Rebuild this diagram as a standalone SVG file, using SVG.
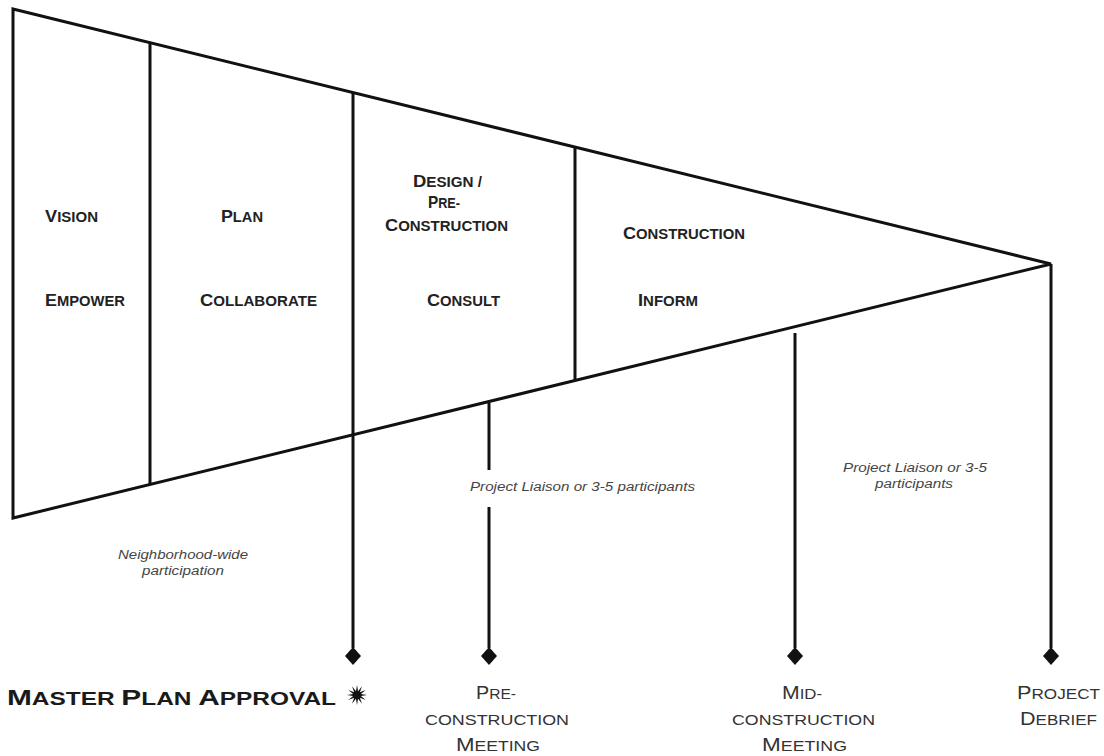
<svg xmlns="http://www.w3.org/2000/svg" width="1104" height="756" viewBox="0 0 1104 756">
<style>
  .ln { stroke: #111; stroke-width: 3; fill: none; stroke-linecap: butt; stroke-linejoin: miter; }
  .ph { font-family: "Liberation Sans", Arial, sans-serif; font-weight: bold; fill: #222; }
  .ph .c { font-size: 17px; }
  .ph .s { font-size: 14px; }
  .it { font-family: "Liberation Sans", Arial, sans-serif; font-style: italic; font-size: 12px; fill: #444; }
  .ms { font-family: "Liberation Sans", Arial, sans-serif; fill: #333; }
  .ms .c { font-size: 19px; }
  .ms .s { font-size: 15px; }
  .mp { font-family: "Liberation Sans", Arial, sans-serif; font-weight: bold; fill: #1a1a1a; }
  .mp .c { font-size: 22px; }
  .mp .s { font-size: 18px; }
  .dia { fill: #111; }
</style>
<defs>
  <polygon id="diamond" class="dia" points="0,-9 8,0 0,9 -8,0"/>
</defs>
<rect width="1104" height="756" fill="#fff"/>

<g id="outline">
  <polygon class="ln" points="13,9 1051,264 13,518"/>
</g>

<g id="connectors">
  <line class="ln" x1="150" y1="43" x2="150" y2="485"/>
  <line class="ln" x1="575" y1="147" x2="575" y2="381"/>
  <line class="ln" x1="353" y1="92" x2="353" y2="648"/>
  <line class="ln" x1="489" y1="403" x2="489" y2="470"/>
  <line class="ln" x1="489" y1="507" x2="489" y2="648"/>
  <line class="ln" x1="795" y1="333" x2="795" y2="648"/>
  <line class="ln" x1="1051" y1="264" x2="1051" y2="648"/>
</g>

<g id="phase-vision">
  <text class="ph" x="45" y="222" textLength="53" lengthAdjust="spacingAndGlyphs"><tspan class="c">V</tspan><tspan class="s">ISION</tspan></text>
  <text class="ph" x="45" y="306" textLength="80" lengthAdjust="spacingAndGlyphs"><tspan class="c">E</tspan><tspan class="s">MPOWER</tspan></text>
</g>

<g id="phase-plan">
  <text class="ph" x="221" y="222" textLength="42" lengthAdjust="spacingAndGlyphs"><tspan class="c">P</tspan><tspan class="s">LAN</tspan></text>
  <text class="ph" x="200" y="306" textLength="117" lengthAdjust="spacingAndGlyphs"><tspan class="c">C</tspan><tspan class="s">OLLABORATE</tspan></text>
</g>

<g id="phase-design">
  <text class="ph" x="413" y="187" textLength="69" lengthAdjust="spacingAndGlyphs"><tspan class="c">D</tspan><tspan class="s">ESIGN /</tspan></text>
  <text class="ph" x="428" y="208" textLength="32" lengthAdjust="spacingAndGlyphs"><tspan class="c">P</tspan><tspan class="s">RE-</tspan></text>
  <text class="ph" x="385" y="231" textLength="123" lengthAdjust="spacingAndGlyphs"><tspan class="c">C</tspan><tspan class="s">ONSTRUCTION</tspan></text>
  <text class="ph" x="427" y="306" textLength="73" lengthAdjust="spacingAndGlyphs"><tspan class="c">C</tspan><tspan class="s">ONSULT</tspan></text>
</g>

<g id="phase-construction">
  <text class="ph" x="623" y="239" textLength="122" lengthAdjust="spacingAndGlyphs"><tspan class="c">C</tspan><tspan class="s">ONSTRUCTION</tspan></text>
  <text class="ph" x="638" y="306" textLength="60" lengthAdjust="spacingAndGlyphs"><tspan class="c">I</tspan><tspan class="s">NFORM</tspan></text>
</g>

<g id="label-neighborhood">
  <text class="it" x="118" y="559" textLength="130" lengthAdjust="spacingAndGlyphs">Neighborhood-wide</text>
  <text class="it" x="142" y="575" textLength="82" lengthAdjust="spacingAndGlyphs">participation</text>
</g>

<g id="label-liaison-1">
  <text class="it" x="470" y="491" textLength="225" lengthAdjust="spacingAndGlyphs">Project Liaison or 3-5 participants</text>
</g>

<g id="label-liaison-2">
  <text class="it" x="843" y="472" textLength="144" lengthAdjust="spacingAndGlyphs">Project Liaison or 3-5</text>
  <text class="it" x="875" y="488" textLength="78" lengthAdjust="spacingAndGlyphs">participants</text>
</g>

<g id="milestone-master-plan">
  <use href="#diamond" x="353" y="656"/>
  <text class="mp" x="7" y="705" textLength="329" lengthAdjust="spacingAndGlyphs"><tspan class="c">M</tspan><tspan class="s">ASTER </tspan><tspan class="c">P</tspan><tspan class="s">LAN </tspan><tspan class="c">A</tspan><tspan class="s">PPROVAL</tspan></text>
  <polygon fill="#111" points="357,685 358.04,691.14 362,686.34 359.83,692.17 365.66,690 360.86,693.96 367,695 360.86,696.04 365.66,700 359.83,697.83 362,703.66 358.04,698.86 357,705 355.96,698.86 352,703.66 354.17,697.83 348.34,700 353.14,696.04 347,695 353.14,693.96 348.34,690 354.17,692.17 352,686.34 355.96,691.14"/>
</g>

<g id="milestone-pre-construction">
  <use href="#diamond" x="489" y="656"/>
  <text class="ms" x="476" y="699" textLength="40" lengthAdjust="spacingAndGlyphs"><tspan class="c">P</tspan><tspan class="s">RE-</tspan></text>
  <text class="ms" x="425" y="725" textLength="144" lengthAdjust="spacingAndGlyphs"><tspan class="s">CONSTRUCTION</tspan></text>
  <text class="ms" x="456" y="751" textLength="84" lengthAdjust="spacingAndGlyphs"><tspan class="c">M</tspan><tspan class="s">EETING</tspan></text>
</g>

<g id="milestone-mid-construction">
  <use href="#diamond" x="795" y="656"/>
  <text class="ms" x="782" y="699" textLength="40" lengthAdjust="spacingAndGlyphs"><tspan class="c">M</tspan><tspan class="s">ID-</tspan></text>
  <text class="ms" x="732" y="725" textLength="143" lengthAdjust="spacingAndGlyphs"><tspan class="s">CONSTRUCTION</tspan></text>
  <text class="ms" x="762" y="751" textLength="85" lengthAdjust="spacingAndGlyphs"><tspan class="c">M</tspan><tspan class="s">EETING</tspan></text>
</g>

<g id="milestone-debrief">
  <use href="#diamond" x="1051" y="656"/>
  <text class="ms" x="1017" y="699" textLength="83" lengthAdjust="spacingAndGlyphs"><tspan class="c">P</tspan><tspan class="s">ROJECT</tspan></text>
  <text class="ms" x="1020" y="725" textLength="77" lengthAdjust="spacingAndGlyphs"><tspan class="c">D</tspan><tspan class="s">EBRIEF</tspan></text>
</g>
</svg>
